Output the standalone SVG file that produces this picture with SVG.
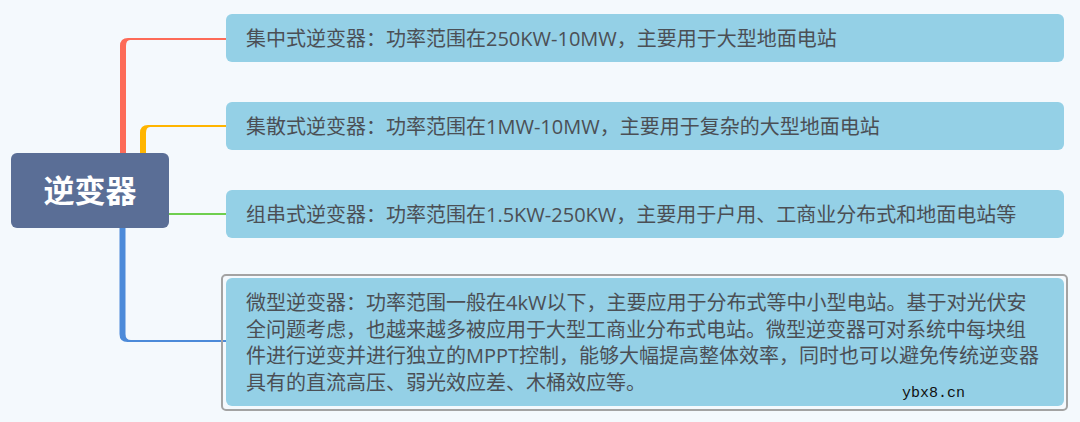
<svg xmlns="http://www.w3.org/2000/svg" width="1080" height="422" viewBox="0 0 1080 422">
<style>
.bg{fill:#f4f9fd}
.box{fill:#94d0e6}
.t{font-family:"Open Sans","Noto Sans CJK SC",sans-serif;font-size:20px;fill:#4b4f55}
.t4{font-family:"Open Sans","Noto Sans CJK SC",sans-serif;font-size:20px;fill:#4b4f55}
.root{fill:#5a6e96}
.rt{font-family:"Noto Sans CJK SC",sans-serif;font-size:31px;font-weight:bold;fill:#ffffff}
.wm{font-family:"Liberation Mono",monospace;font-size:15px;fill:#111111}
</style>
<rect class="bg" x="0" y="0" width="1080" height="422"/>
<g id="connectors">
<path d="M120,153 V46 Q120,38 128,38 H226 V40 H130 Q126,40 126,46 V153 Z" fill="#fd6b58"/>
<path d="M140,153 V133 Q140,125 148,125 H226 V127 H150 Q146,127 146,133 V153 Z" fill="#ffb500"/>
<line x1="169" y1="214" x2="226" y2="214" stroke="#6fcf4f" stroke-width="2"/>
<path d="M119.5,228 V334 Q119.5,342 127.5,342 H226 V340 H131 Q125.5,340 125.5,334 V228 Z" fill="#4c8ad9"/>
</g>
<g id="root">
<rect class="root" x="11" y="153" width="158" height="75" rx="6"/>
<text class="rt" x="90" y="202" text-anchor="middle">逆变器</text>
</g>
<g id="node1">
<rect class="box" x="226" y="14" width="838" height="48" rx="6"/>
<text class="t" x="246" y="45.5">集中式逆变器：功率范围在250KW-10MW，主要用于大型地面电站</text>
</g>
<g id="node2">
<rect class="box" x="226" y="102" width="838" height="48" rx="6"/>
<text class="t" x="246" y="133.5">集散式逆变器：功率范围在1MW-10MW，主要用于复杂的大型地面电站</text>
</g>
<g id="node3">
<rect class="box" x="226" y="190" width="838" height="48" rx="6"/>
<text class="t" x="246" y="221.5">组串式逆变器：功率范围在1.5KW-250KW，主要用于户用、工商业分布式和地面电站等</text>
</g>
<g id="node4">
<rect x="222" y="275" width="845" height="135" rx="4" fill="none" stroke="#a3a3a3" stroke-width="2"/>
<rect class="box" x="226" y="278" width="838" height="128" rx="6"/>
<text class="t4" x="246" y="310">微型逆变器：功率范围一般在4kW以下，主要应用于分布式等中小型电站。基于对光伏安</text>
<text class="t4" x="246" y="336.5">全问题考虑，也越来越多被应用于大型工商业分布式电站。微型逆变器可对系统中每块组</text>
<text class="t4" x="246" y="363">件进行逆变并进行独立的MPPT控制，能够大幅提高整体效率，同时也可以避免传统逆变器</text>
<text class="t4" x="246" y="389.5">具有的直流高压、弱光效应差、木桶效应等。</text>
</g>
<text class="wm" x="902" y="397">ybx8.cn</text>
</svg>
